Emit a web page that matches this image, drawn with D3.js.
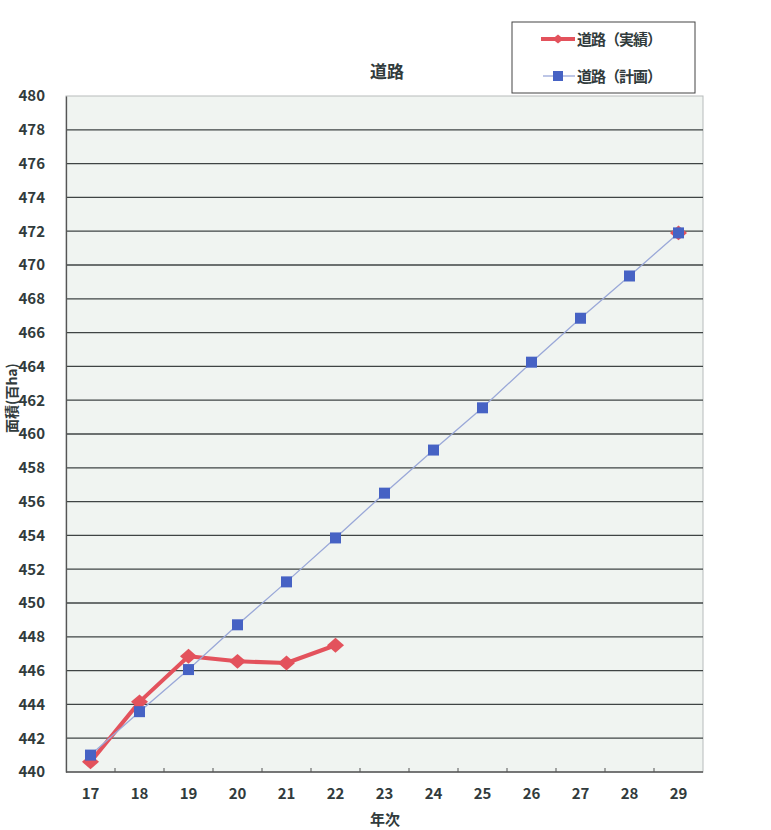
<!DOCTYPE html>
<html>
<head>
<meta charset="utf-8">
<script src="https://cdn.jsdelivr.net/npm/d3@7"></script>
<style>
  html, body { margin: 0; padding: 0; background: #ffffff; }
  svg { display: block; }
  text { font-family: "Noto Sans CJK JP", "Noto Sans", sans-serif; }
</style>
</head>
<body>
<script>
// ---- data ----
const categories = ["17","18","19","20","21","22","23","24","25","26","27","28","29"];
const actualValues = [440.6, 444.15, 446.85, 446.55, 446.45, 447.5, null, null, null, null, null, null, 471.9];
const planValues   = [441.0, 443.57, 446.06, 448.71, 451.25, 453.85, 456.5, 459.05, 461.55, 464.25, 466.85, 469.35, 471.9];
const yTicks = [440,442,444,446,448,450,452,454,456,458,460,462,464,466,468,470,472,474,476,478,480];
const titleText = "道路";
const xTitle = "年次";
const yTitle = "面積(百ha)";
const seriesNames = ["道路（実績）", "道路（計画）"];

// ---- layout ----
const W = 771, H = 830;
const plot = { left: 66, right: 703, top: 96, bottom: 772 };
const textColor = "#313b3c";
const numFont = "Liberation Sans, Arial, sans-serif";

const svg = d3.select("body").append("svg").attr("width", W).attr("height", H);

const x = d3.scaleBand().domain(categories).range([plot.left, plot.right]).padding(0);
const y = d3.scaleLinear().domain([440, 480]).range([plot.bottom, plot.top]);
const cx = c => x(c) + x.bandwidth() / 2;

// plot background
svg.append("rect")
  .attr("x", plot.left).attr("y", plot.top)
  .attr("width", plot.right - plot.left).attr("height", plot.bottom - plot.top)
  .attr("fill", "#f0f4f1").attr("stroke", "#b8bcbc").attr("stroke-width", 1);

// gridlines
svg.append("g").selectAll("line").data(yTicks.filter(v => v > 440 && v < 480)).join("line")
  .attr("x1", plot.left).attr("x2", plot.right)
  .attr("y1", d => y(d)).attr("y2", d => y(d))
  .attr("stroke", "#3f4444").attr("stroke-width", 1.3);

// y axis
const yAxis = d3.axisLeft(y).tickValues(yTicks).tickSize(0).tickPadding(21);
const gy = svg.append("g").attr("transform", `translate(${plot.left},0)`).call(yAxis);
gy.select(".domain").attr("stroke", "#555").attr("stroke-width", 1.3);
gy.selectAll("text").attr("font-size", 15).attr("font-weight", "bold").attr("fill", textColor)
  .attr("font-family", numFont);

// x axis (ticks at category boundaries, inside)
const gx = svg.append("g").attr("transform", `translate(0,${plot.bottom})`);
gx.append("line").attr("x1", plot.left).attr("x2", plot.right).attr("y1", 0).attr("y2", 0)
  .attr("stroke", "#555").attr("stroke-width", 1.3);
gx.selectAll("line.tk").data(categories.slice(1)).join("line").attr("class", "tk")
  .attr("x1", d => x(d)).attr("x2", d => x(d)).attr("y1", 0).attr("y2", -4)
  .attr("stroke", "#555");
gx.selectAll("text").data(categories).join("text")
  .attr("x", d => cx(d)).attr("y", 27)
  .attr("text-anchor", "middle")
  .attr("font-size", 15).attr("font-weight", "bold").attr("fill", textColor)
  .attr("font-family", numFont)
  .text(d => d);

// titles
svg.append("text").attr("x", 387).attr("y", 78).attr("text-anchor", "middle")
  .attr("font-size", 17).attr("font-weight", "bold").attr("fill", textColor).text(titleText);
svg.append("text").attr("x", 385).attr("y", 825).attr("text-anchor", "middle")
  .attr("font-size", 15).attr("font-weight", "bold").attr("fill", textColor).text(xTitle);
svg.append("text").attr("transform", "translate(17,398) rotate(-90)").attr("text-anchor", "middle")
  .attr("font-size", 14).attr("font-weight", "bold").attr("fill", textColor).text(yTitle);

const redColor = "#e3525c";
const blueLine = "#9aa8d8";
const blueFill = "#4662c4";

const planData = categories.map((c, i) => ({ c, v: planValues[i] }));
const actData = categories.map((c, i) => ({ c, v: actualValues[i] }));

const line = d3.line().defined(d => d.v != null).x(d => cx(d.c)).y(d => y(d.v));

svg.append("path").datum(actData).attr("d", line)
  .attr("fill", "none").attr("stroke", redColor).attr("stroke-width", 4).attr("stroke-linejoin", "round");
const diamond = d3.symbol().type(d3.symbolDiamond2).size(140);
svg.append("g").selectAll("path").data(actData.filter(d => d.v != null)).join("path")
  .attr("transform", d => `translate(${cx(d.c)},${y(d.v)}) scale(1.15,1)`)
  .attr("d", diamond).attr("fill", redColor);

svg.append("path").datum(planData).attr("d", line)
  .attr("fill", "none").attr("stroke", blueLine).attr("stroke-width", 1.3);
svg.append("g").selectAll("rect").data(planData).join("rect")
  .attr("x", d => cx(d.c) - 5.5).attr("y", d => y(d.v) - 5.5)
  .attr("width", 11).attr("height", 11).attr("fill", blueFill);

// legend
const lg = svg.append("g");
lg.append("rect").attr("x", 512).attr("y", 22).attr("width", 183).attr("height", 71)
  .attr("fill", "#ffffff").attr("stroke", "#444").attr("stroke-width", 1);
lg.append("line").attr("x1", 541).attr("x2", 575).attr("y1", 39).attr("y2", 39)
  .attr("stroke", redColor).attr("stroke-width", 4);
lg.append("path").attr("transform", "translate(558,39) scale(0.75,0.6)").attr("d", diamond).attr("fill", redColor);
lg.append("text").attr("x", 577).attr("y", 45).attr("font-size", 15).attr("font-weight", "bold")
  .attr("fill", textColor).attr("letter-spacing", -1).text(seriesNames[0]);
lg.append("line").attr("x1", 543).attr("x2", 575).attr("y1", 76).attr("y2", 76)
  .attr("stroke", blueLine).attr("stroke-width", 1.3);
lg.append("rect").attr("x", 553).attr("y", 71).attr("width", 10).attr("height", 10).attr("fill", blueFill);
lg.append("text").attr("x", 577).attr("y", 82).attr("font-size", 15).attr("font-weight", "bold")
  .attr("fill", textColor).attr("letter-spacing", -1).text(seriesNames[1]);
</script>
</body>
</html>
